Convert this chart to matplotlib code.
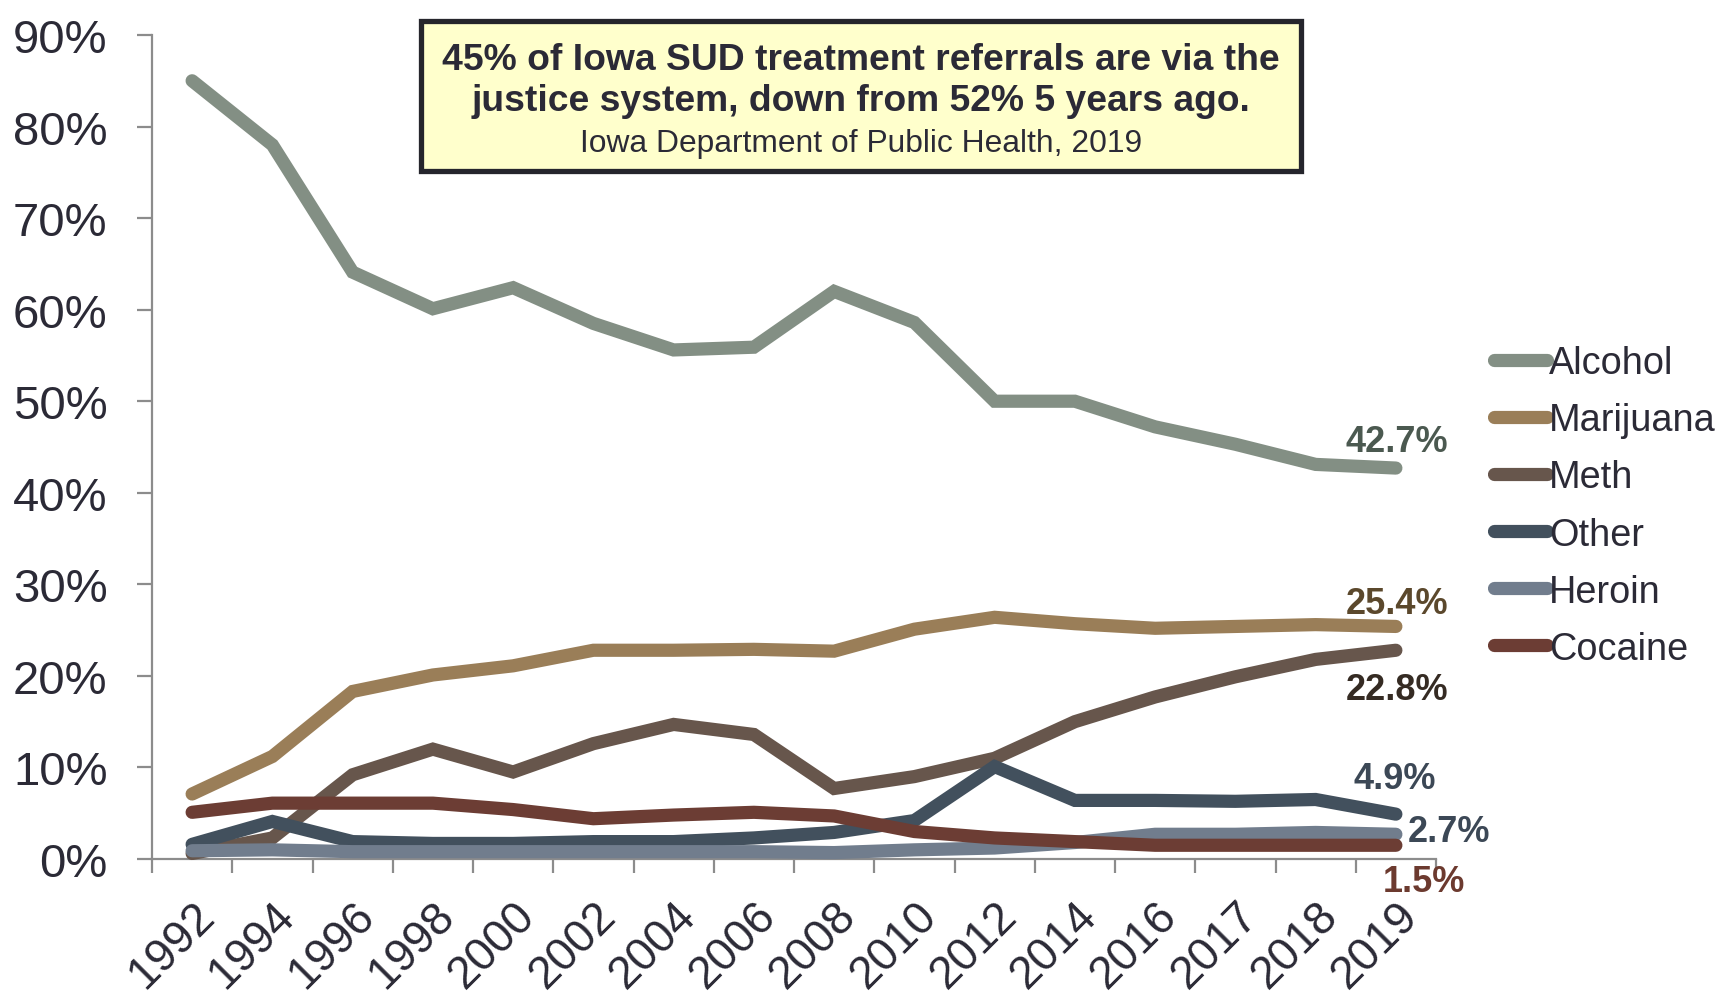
import matplotlib
matplotlib.use("Agg")
import matplotlib.pyplot as plt
from matplotlib.patches import Rectangle
from matplotlib.ticker import FixedLocator, PercentFormatter, NullFormatter

plt.rcParams['font.family'] = ['Liberation Sans', 'DejaVu Sans']

years = ["1992", "1994", "1996", "1998", "2000", "2002", "2004", "2006",
         "2008", "2010", "2012", "2014", "2016", "2017", "2018", "2019"]

alcohol = [85.0, 78.0, 64.1, 60.1, 62.4, 58.5, 55.6, 55.9, 62.0, 58.6, 50.0, 50.0, 47.2, 45.3, 43.1, 42.7]
marijuana = [7.1, 11.2, 18.3, 20.1, 21.1, 22.8, 22.8, 22.9, 22.7, 25.1, 26.4, 25.7, 25.2, 25.4, 25.6, 25.4]
meth = [0.6, 2.3, 9.2, 12.0, 9.5, 12.6, 14.7, 13.6, 7.7, 9.0, 11.0, 15.0, 17.7, 19.9, 21.8, 22.8]
other = [1.6, 4.1, 1.9, 1.7, 1.7, 1.9, 1.9, 2.3, 2.9, 4.2, 10.1, 6.4, 6.4, 6.3, 6.5, 4.9]
heroin = [0.9, 1.0, 0.8, 0.8, 0.8, 0.8, 0.8, 0.8, 0.7, 1.0, 1.2, 1.8, 2.7, 2.7, 2.9, 2.7]
cocaine = [5.1, 6.1, 6.1, 6.1, 5.4, 4.4, 4.8, 5.1, 4.7, 3.0, 2.3, 1.9, 1.5, 1.5, 1.5, 1.5]

series_names = ["Alcohol", "Marijuana", "Meth", "Other", "Heroin", "Cocaine"]
series_values = [alcohol, marijuana, meth, other, heroin, cocaine]
end_labels = ["42.7%", "25.4%", "22.8%", "4.9%", "2.7%", "1.5%"]

line_colors = ["#838f84", "#9a7e58", "#67564c", "#42505d", "#717d8d", "#6c3d34"]
label_colors = ["#4b5950", "#5b482c", "#352b23", "#3c4856", "#3c4856", "#6c3a2f"]
# label offsets in pixels (dx, dy) from last point
label_offsets = [(1, 27), (1, 23), (1, -39), (-1, 36), (53, 3), (28, -36)]

TEXT = "#2b2a36"
AXC = "#8c8c8c"

W, H = 1719, 995
fig = plt.figure(figsize=(W / 100, H / 100), dpi=100)
ax = fig.add_axes([152 / W, 135 / H, (1436 - 152) / W, (860 - 36) / H])

x = list(range(len(years)))
for i, (name, vals, col) in enumerate(zip(series_names, series_values, line_colors)):
    ax.plot(x, vals, color=col, lw=9.5, solid_capstyle='round', solid_joinstyle='miter',
            label=name, zorder=3 + i, clip_on=False)

ax.set_xlim(-0.5, len(years) - 0.5)
ax.set_ylim(0, 90)

for s in ['top', 'right']:
    ax.spines[s].set_visible(False)
for s in ['left', 'bottom']:
    ax.spines[s].set_color(AXC)
    ax.spines[s].set_linewidth(1.6)

ax.yaxis.set_major_locator(FixedLocator(range(0, 91, 10)))
ax.yaxis.set_major_formatter(PercentFormatter(decimals=0))
ax.tick_params(axis='y', which='major', direction='out', length=11, width=1.6, color=AXC,
               labelsize=34, labelcolor=TEXT, pad=21)

ax.xaxis.set_major_locator(FixedLocator([i - 0.5 for i in range(len(years) + 1)]))
ax.xaxis.set_major_formatter(NullFormatter())
ax.xaxis.set_minor_locator(FixedLocator(x))
ax.set_xticklabels(years, minor=True, fontsize=33, color=TEXT)
ax.tick_params(axis='x', which='major', direction='out', length=10, width=1.6, color=AXC)
ax.tick_params(axis='x', which='minor', length=0, labelsize=33, labelcolor=TEXT, pad=24.5)
for lab in ax.get_xticklabels(minor=True):
    lab.set_rotation(45)
    lab.set_ha('right')
    lab.set_va('top')
    lab.set_rotation_mode('anchor')

# end labels
for vals, txt, col, (dx, dy) in zip(series_values, end_labels, label_colors, label_offsets):
    ax.annotate(txt, xy=(x[-1], vals[-1]), xytext=(dx * 0.72, dy * 0.72), textcoords='offset points',
                ha='center', va='center', fontsize=26, fontweight='bold', color=col,
                annotation_clip=False, zorder=20)

# legend
leg = fig.legend(loc='center left', bbox_to_anchor=(1494 / W, 1 - 507 / H), frameon=False,
                 fontsize=27.3, handlelength=1.4, handletextpad=0.05, labelspacing=0.555,
                 borderpad=0, borderaxespad=0, labelcolor=TEXT)

# title box
fig.patches.append(Rectangle((421 / W, 1 - 172 / H), 880 / W, 150 / H, transform=fig.transFigure,
                             facecolor="#ffffcc", edgecolor="#25252c", linewidth=3.8, zorder=0))
cx = 861 / W
fig.text(cx, 1 - 70 / H, "45% of Iowa SUD treatment referrals are via the", ha='center', va='baseline',
         fontsize=26.8, fontweight='bold', color=TEXT)
fig.text(cx, 1 - 111 / H, "justice system, down from 52% 5 years ago.", ha='center', va='baseline',
         fontsize=26.8, fontweight='bold', color=TEXT)
fig.text(cx, 1 - 152 / H, "Iowa Department of Public Health, 2019", ha='center', va='baseline',
         fontsize=22.9, color=TEXT)

fig.savefig("out.png", dpi=100)
